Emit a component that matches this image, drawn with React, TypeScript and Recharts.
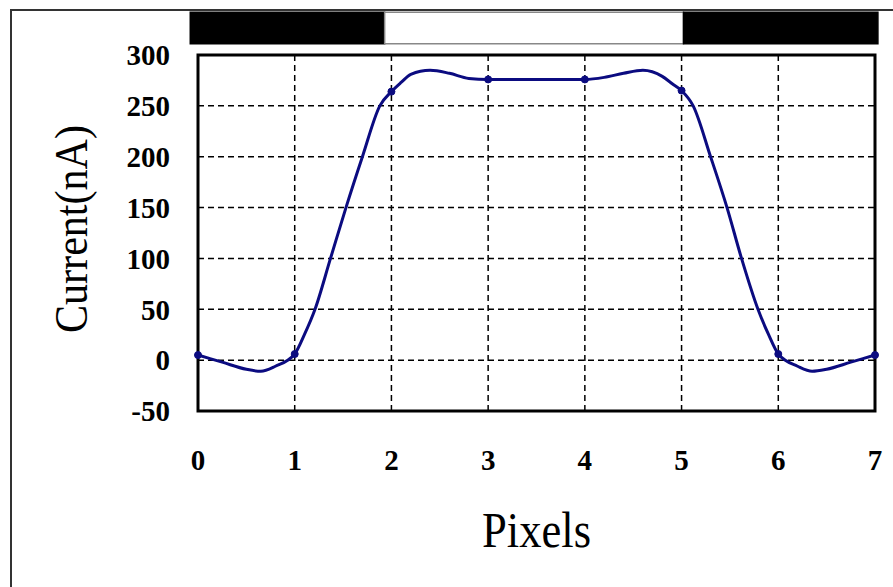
import {
  CartesianGrid,
  ComposedChart,
  Label,
  Line,
  ReferenceArea,
  XAxis,
  YAxis,
} from 'recharts';

const curveX = [0, 0.25, 0.5, 0.65, 0.8, 1, 1.1, 1.21, 1.37, 1.53, 1.7, 1.88, 2, 2.1, 2.2, 2.4, 2.6, 2.8, 3, 3.5, 4, 4.2, 4.4, 4.6, 4.8, 4.9, 5, 5.12, 5.3, 5.47, 5.62, 5.79, 5.9, 6, 6.2, 6.35, 6.5, 6.75, 7];
const curveY = [5, -2, -9, -11, -6, 6, 25, 50, 100, 150, 200, 250, 264, 273, 281, 285, 282, 277, 276, 276, 276, 278, 282, 285, 279, 272, 265, 250, 200, 150, 100, 50, 25, 6, -6, -11, -9, -2, 5];

// sample points (markers)
const pointX = [0, 1, 2, 3, 4, 5, 6, 7];
const pointY = [5, 6, 264, 276, 276, 265, 6, 5];

const xTicks = [0, 1, 2, 3, 4, 5, 6, 7];
const yTicks = [-50, 0, 50, 100, 150, 200, 250, 300];

// pixel pattern bar above the plot: dark / light / dark
const barFrom = [-0.08, 1.93, 5.02];
const barTo = [1.93, 5.02, 7.03];
const barDark = [true, false, true];

const curve = curveX.map((x, i) => ({ x, y: curveY[i] }));
const points = pointX.map((x, i) => ({ x, y: pointY[i] }));

const font = '"Liberation Serif", "Times New Roman", serif';
const navy = '#0b0b80';

export default function App() {
  return (
    <div style={{ position: 'absolute', left: 0, top: 0, width: 893, height: 587, background: '#fff' }}>
      <div
        style={{
          position: 'absolute',
          left: 10,
          top: 9,
          width: 900,
          height: 600,
          borderLeft: '2px solid #333',
          borderTop: '2px solid #333',
        }}
      />
      <div style={{ position: 'absolute', left: 0, top: 0 }}>
        <ComposedChart
          width={893}
          height={587}
          margin={{ top: 55, right: 18, left: 128, bottom: 116 }}
        >
          <CartesianGrid
            stroke="#000"
            strokeWidth={1.5}
            strokeDasharray="6 4"
          />
          <XAxis
            type="number"
            dataKey="x"
            domain={[0, 7]}
            ticks={xTicks}
            height={60}
            axisLine={false}
            tickLine={false}
            tickSize={0}
            tickMargin={38}
            tick={{ fontFamily: font, fontSize: 29, fontWeight: 'bold', fill: '#000' }}
          >
            <Label
              content={(props: any) => {
                const vb = props.viewBox;
                return (
                  <text
                    x={vb.x + vb.width / 2}
                    y={547}
                    textAnchor="middle"
                    fontFamily={font}
                    fontSize={50}
                    textLength={109}
                    lengthAdjust="spacingAndGlyphs"
                    fill="#000"
                  >
                    Pixels
                  </text>
                );
              }}
            />
          </XAxis>
          <YAxis
            type="number"
            domain={[-50, 300]}
            ticks={yTicks}
            width={70}
            axisLine={false}
            tickLine={false}
            tickSize={0}
            tickMargin={28}
            tick={{ fontFamily: font, fontSize: 29, fontWeight: 'bold', fill: '#000' }}
          >
            <Label
              content={() => (
                <text
                  x={87}
                  y={229}
                  transform="rotate(-90, 87, 229)"
                  textAnchor="middle"
                  fontFamily={font}
                  fontSize={47}
                  textLength={208}
                  lengthAdjust="spacingAndGlyphs"
                  fill="#000"
                >
                  Current(nA)
                </text>
              )}
            />
          </YAxis>
          {barFrom.map((from, i) => (
            <ReferenceArea
              key={i}
              x1={from}
              x2={barTo[i]}
              y1={311}
              y2={342}
              ifOverflow="visible"
              fill={barDark[i] ? '#000' : '#fff'}
              fillOpacity={1}
              stroke={barDark[i] ? '#000' : '#888'}
              strokeWidth={1.5}
            />
          ))}
          <ReferenceArea
            x1={0}
            x2={7}
            y1={-50}
            y2={300}
            ifOverflow="visible"
            fill="none"
            stroke="#000"
            strokeWidth={3}
          />
          <Line
            data={curve}
            dataKey="y"
            type="monotone"
            stroke={navy}
            strokeWidth={3}
            dot={false}
            activeDot={false}
            isAnimationActive={false}
          />
          <Line
            data={points}
            dataKey="y"
            stroke="none"
            dot={{ r: 3.5, fill: navy, stroke: navy, strokeWidth: 1 }}
            activeDot={false}
            isAnimationActive={false}
          />
        </ComposedChart>
      </div>
    </div>
  );
}
